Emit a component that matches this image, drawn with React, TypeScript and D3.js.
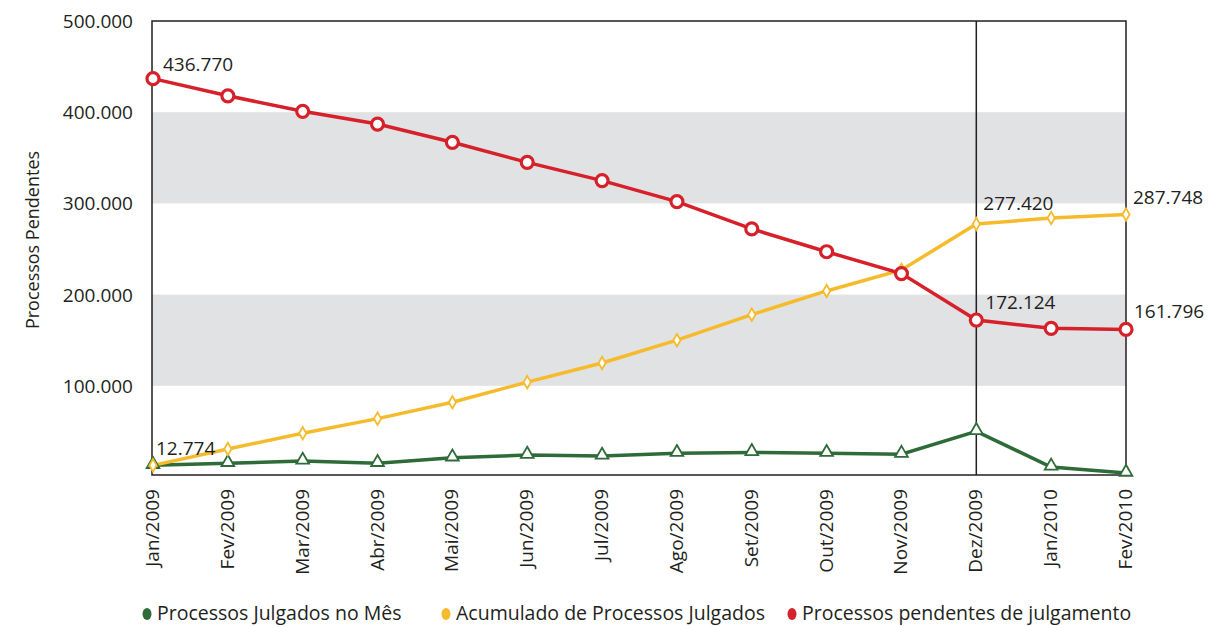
import React from 'react';
import * as d3 from 'd3';

// months on the x axis
const months = [
  'Jan/2009', 'Fev/2009', 'Mar/2009', 'Abr/2009', 'Mai/2009', 'Jun/2009', 'Jul/2009',
  'Ago/2009', 'Set/2009', 'Out/2009', 'Nov/2009', 'Dez/2009', 'Jan/2010', 'Fev/2010',
];

const julgadosMes = [12774, 15000, 17500, 15000, 21000, 24000, 23000, 26000, 27000, 26000, 25000, 50000, 11000, 4300];
const acumulado = [12774, 30700, 48000, 64000, 82000, 104000, 125000, 150000, 178000, 204000, 227000, 277420, 284000, 287748];
const pendentes = [436770, 418000, 401000, 387000, 367000, 345000, 325000, 302000, 272000, 247000, 223000, 172124, 163000, 161796];

const yTicks = [100000, 200000, 300000, 400000, 500000];
const bands = [[100000, 200000], [300000, 400000]];

// value labels: [series, index, dx, dy]
const valueLabels: [number[], number, number, number][] = [
  [pendentes, 0, 10, -8],
  [acumulado, 0, 3, -10],
  [acumulado, 11, 7, -14],
  [acumulado, 13, 7, -11],
  [pendentes, 11, 9, -11],
  [pendentes, 13, 8, -11],
];

const legendItems = [
  { label: 'Processos Julgados no Mês', color: '#2f6b38', x: 147 },
  { label: 'Acumulado de Processos Julgados', color: '#f6bb2c', x: 446 },
  { label: 'Processos pendentes de julgamento', color: '#d6202a', x: 792 },
];

const fmt = (v: number) => d3.format(',')(v).replace(/,/g, '.');

const App: React.FC = () => {
  const width = 1212;
  const height = 627;
  const font = '"Open Sans", "DejaVu Sans", sans-serif';
  const ink = '#231f20';

  const x = d3.scalePoint<string>().domain(months).range([153, 1126]);
  const y = d3.scaleLinear().domain([0, 500000]).range([477, 21]);
  const left = 152;
  const right = x('Fev/2010') as number;
  const top = y(500000);
  const bottom = 475;

  const line = d3.line<number>()
    .x((_, i) => x(months[i]) as number)
    .y(d => y(d));

  const tri = d3.symbol().type(d3.symbolTriangle).size(70)();
  const diamond = d3.symbol().type(d3.symbolDiamond).size(45)();

  return (
    <svg width={width} height={height}
      style={{ position: 'absolute', left: 0, top: 0, background: 'white', fontFamily: font }}>
      {bands.map(([a, b], i) => (
        <rect key={i} x={left} y={y(b)} width={right - left} height={y(a) - y(b)} fill="#e1e2e3" />
      ))}

      {/* frame */}
      <rect x={left} y={top} width={right - left} height={bottom - top} fill="none" stroke={ink} strokeWidth={1.5} />
      <line x1={x('Dez/2009')} x2={x('Dez/2009')} y1={top} y2={bottom} stroke={ink} strokeWidth={1.5} />

      {yTicks.map(t => (
        <text key={t} x={133} y={y(t) + 7} textAnchor="end" fontSize={19} fill={ink}>{fmt(t)}</text>
      ))}
      <text transform={`translate(39,240) rotate(-90)`} textAnchor="middle" fontSize={18} fill={ink}>
        Processos Pendentes
      </text>

      {months.map(m => (
        <text key={m} transform={`translate(${(x(m) as number) + 6},489) rotate(-90)`}
          textAnchor="end" fontSize={19} fill={ink}>{m}</text>
      ))}

      {/* lines */}
      <path d={line(julgadosMes) || ''} fill="none" stroke="#2f6b38" strokeWidth={3.5} />
      <path d={line(acumulado) || ''} fill="none" stroke="#f6bb2c" strokeWidth={3.5} />
      <path d={line(pendentes) || ''} fill="none" stroke="#d6202a" strokeWidth={3.5} />

      {julgadosMes.map((v, i) => (
        <path key={'g' + i} d={tri || ''} transform={`translate(${x(months[i])},${y(v) - 1})`}
          fill="white" stroke="#2f6b38" strokeWidth={1.8} />
      ))}
      {acumulado.map((v, i) => (
        <path key={'a' + i} d={diamond || ''} transform={`translate(${x(months[i])},${y(v)})`}
          fill="white" stroke="#f6bb2c" strokeWidth={1.8} />
      ))}
      {pendentes.map((v, i) => (
        <circle key={'p' + i} cx={x(months[i])} cy={y(v)} r={6}
          fill="white" stroke="#d6202a" strokeWidth={3.2} />
      ))}

      {valueLabels.map(([s, i, dx, dy], k) => (
        <text key={k} x={(x(months[i]) as number) + dx} y={y(s[i]) + dy}
          fontSize={19} fill={ink}>{fmt(s[i])}</text>
      ))}

      {/* legend */}
      {legendItems.map(it => (
        <g key={it.label}>
          <ellipse cx={it.x} cy={614} rx={4.5} ry={6} fill={it.color} />
          <text x={it.x + 10} y={620} fontSize={19.5} fill={ink}>{it.label}</text>
        </g>
      ))}
    </svg>
  );
};

export default App;
